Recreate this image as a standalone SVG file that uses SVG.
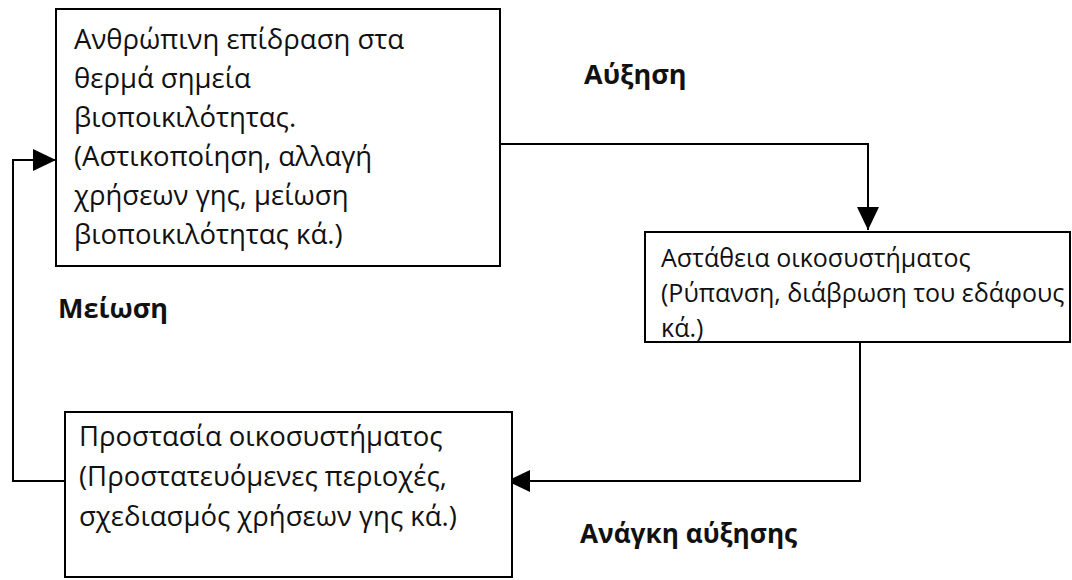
<svg xmlns="http://www.w3.org/2000/svg" width="1072" height="580" viewBox="0 0 1072 580">
<defs>
<style>
.box{fill:#fff;stroke:#000;stroke-width:2}
.t{font-family:"Open Sans","Noto Sans","DejaVu Sans",sans-serif;font-size:27.5px;fill:#111}
.t2{font-family:"Open Sans","Noto Sans","DejaVu Sans",sans-serif;font-size:25px;fill:#111}
.lbl{font-family:"Open Sans","Noto Sans","DejaVu Sans",sans-serif;font-size:27px;font-weight:bold;fill:#111}
.c{fill:none;stroke:#000;stroke-width:2}
</style>
<marker id="ahb" viewBox="0 0 23 22" refX="23" refY="11" markerWidth="23" markerHeight="22" markerUnits="userSpaceOnUse" orient="auto">
<path d="M0,0 L23,11 L0,22 z" fill="#000"/>
</marker>
</defs>
<rect width="1072" height="580" fill="#fff"/>
<g id="connectors">
<path class="c" d="M500,144 H868 V230" marker-end="url(#ahb)"/>
<path class="c" d="M860,342 V481 H507" marker-end="url(#ahb)"/>
<path class="c" d="M65,481 H13 V160 H56" marker-end="url(#ahb)"/>
</g>
<g id="node-human">
<rect class="box" x="56" y="9" width="444" height="257"/>
<text class="t" x="74" y="49">Ανθρώπινη επίδραση στα</text>
<text class="t" x="74" y="88">θερμά σημεία</text>
<text class="t" x="74" y="127">βιοποικιλότητας.</text>
<text class="t" x="74" y="166">(Αστικοποίηση, αλλαγή</text>
<text class="t" x="74" y="205">χρήσεων γης, μείωση</text>
<text class="t" x="74" y="244">βιοποικιλότητας κά.)</text>
</g>
<g id="node-instability">
<rect class="box" x="645" y="232" width="425" height="110"/>
<text class="t2" x="661" y="267">Αστάθεια οικοσυστήματος</text>
<text class="t2" x="661" y="302">(Ρύπανση, διάβρωση του εδάφους</text>
<text class="t2" x="661" y="337">κά.)</text>
</g>
<g id="node-protection">
<rect class="box" x="65" y="412" width="447" height="165"/>
<text class="t" x="79" y="446">Προστασία οικοσυστήματος</text>
<text class="t" x="79" y="486">(Προστατευόμενες περιοχές,</text>
<text class="t" x="79" y="526">σχεδιασμός χρήσεων γης κά.)</text>
</g>
<g id="labels">
<text class="lbl" x="584" y="84">Αύξηση</text>
<text class="lbl" x="58" y="318">Μείωση</text>
<text class="lbl" x="580" y="543" style="font-size:26.2px">Ανάγκη αύξησης</text>
</g>
</svg>
